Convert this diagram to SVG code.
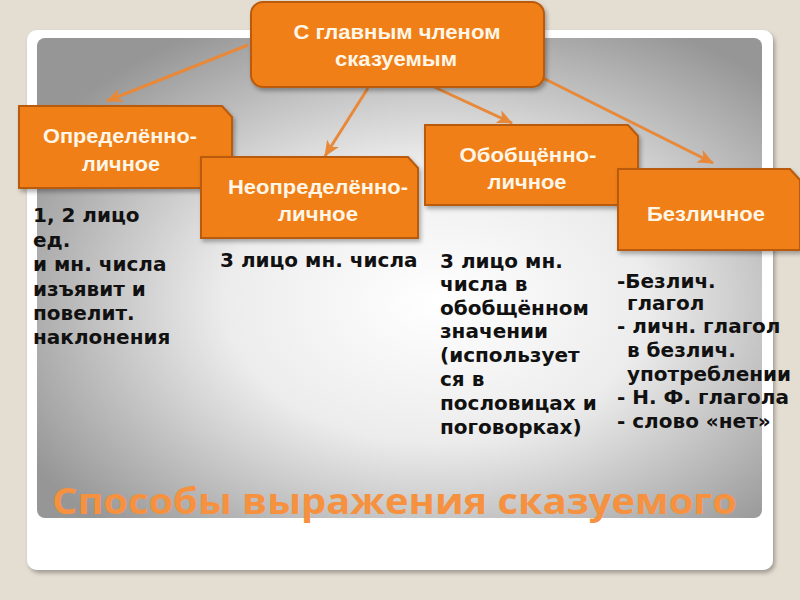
<svg xmlns="http://www.w3.org/2000/svg" width="800" height="600" viewBox="0 0 800 600">
<defs>
<radialGradient id="pg" cx="0.55" cy="0.55" r="0.65">
<stop offset="0" stop-color="#ffffff"/>
<stop offset="0.45" stop-color="#ececec"/>
<stop offset="1" stop-color="#969696"/>
</radialGradient>
<marker id="ah" viewBox="0 0 16 14" refX="15" refY="7" markerWidth="16" markerHeight="14" orient="auto" markerUnits="userSpaceOnUse">
<path d="M0,0 L16,7 L0,14 L4,7 Z" fill="#e8893a"/>
</marker>
<filter id="sh" x="-10%" y="-10%" width="130%" height="130%">
<feDropShadow dx="2" dy="3" stdDeviation="2" flood-color="#000" flood-opacity="0.3"/>
</filter>
</defs>
<style>
.box{fill:#ef7f12;stroke:#b95a0c;stroke-width:2}
.bt{font-family:"Liberation Sans",Arial,sans-serif;font-weight:bold;font-size:20px;fill:#fff6e8;text-anchor:middle}
.body{font-family:"DejaVu Sans",Verdana,sans-serif;font-weight:bold;font-size:20px;fill:#111}
.con{stroke:#e8893a;stroke-width:3;fill:none}
</style>
<rect width="800" height="600" fill="#e4ddd2"/>
<rect x="27" y="30" width="746" height="540" rx="10" fill="#ffffff" filter="url(#sh)"/>
<rect x="37" y="38" width="725" height="480" rx="8" fill="url(#pg)"/>
<text x="52" y="514" font-family="'Open Sans','DejaVu Sans',sans-serif" font-weight="bold" font-size="35" fill="#f5913f" textLength="685" lengthAdjust="spacingAndGlyphs">Способы выражения сказуемого</text>
<g id="connectors">
<line class="con" x1="248" y1="45" x2="107" y2="101" marker-end="url(#ah)"/>
<line class="con" x1="368" y1="88" x2="325" y2="156" marker-end="url(#ah)"/>
<line class="con" x1="432" y1="86" x2="512" y2="123" marker-end="url(#ah)"/>
<line class="con" x1="543" y1="78" x2="713" y2="163" marker-end="url(#ah)"/>
</g>
<g id="root">
<rect class="box" x="251" y="2" width="293" height="85" rx="12" filter="url(#sh)"/>
<text class="bt" x="397" y="39" textLength="207" lengthAdjust="spacingAndGlyphs">С главным членом</text>
<text class="bt" x="396" y="66" textLength="122" lengthAdjust="spacingAndGlyphs">сказуемым</text>
</g>
<g id="n1">
<path class="box" d="M19,106 H222 L232,117 V188 H19 Z" filter="url(#sh)"/>
<text class="bt" x="120" y="143" textLength="154" lengthAdjust="spacingAndGlyphs">Определённо-</text>
<text class="bt" x="121" y="171" textLength="78" lengthAdjust="spacingAndGlyphs">личное</text>
</g>
<g id="n2">
<path class="box" d="M201,157 H408 L418,168 V238 H201 Z" filter="url(#sh)"/>
<text class="bt" x="318" y="194" textLength="180" lengthAdjust="spacingAndGlyphs">Неопределённо-</text>
<text class="bt" x="318" y="221" textLength="80" lengthAdjust="spacingAndGlyphs">личное</text>
</g>
<g id="n3">
<path class="box" d="M425,125 H628 L638,136 V205 H425 Z" filter="url(#sh)"/>
<text class="bt" x="528" y="162" textLength="137" lengthAdjust="spacingAndGlyphs">Обобщённо-</text>
<text class="bt" x="527" y="189" textLength="79" lengthAdjust="spacingAndGlyphs">личное</text>
</g>
<g id="n4">
<path class="box" d="M618,169 H790 L800,180 V250 H618 Z" filter="url(#sh)"/>
<text class="bt" x="706" y="221" textLength="118" lengthAdjust="spacingAndGlyphs">Безличное</text>
</g>
<g id="t1" class="body">
<text x="33" y="222">1, 2 лицо</text>
<text x="33" y="247">ед.</text>
<text x="33" y="271">и мн. числа</text>
<text x="33" y="296">изъявит и</text>
<text x="33" y="320">повелит.</text>
<text x="33" y="344">наклонения</text>
</g>
<g id="t2" class="body">
<text x="220" y="267">3 лицо мн. числа</text>
</g>
<g id="t3" class="body">
<text x="440" y="268">3 лицо мн.</text>
<text x="440" y="291">числа в</text>
<text x="440" y="315">обобщённом</text>
<text x="440" y="338">значении</text>
<text x="440" y="362">(использует</text>
<text x="440" y="386">ся в</text>
<text x="440" y="410">пословицах и</text>
<text x="440" y="434">поговорках)</text>
</g>
<g id="t4" class="body">
<text x="617" y="288">-Безлич.</text>
<text x="627" y="310">глагол</text>
<text x="617" y="333">- личн. глагол</text>
<text x="627" y="357">в безлич.</text>
<text x="627" y="381">употреблении</text>
<text x="617" y="404">- Н. Ф. глагола</text>
<text x="617" y="428">- слово «нет»</text>
</g>
</svg>
